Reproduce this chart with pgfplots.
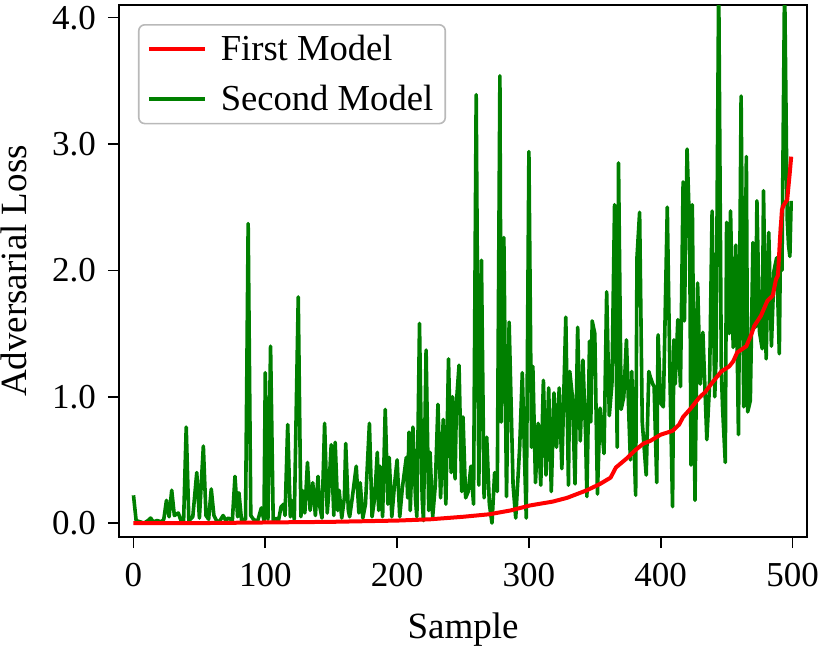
\documentclass[border=0pt]{standalone}
\usepackage{fontspec}
\setmainfont{Liberation Serif}
\usepackage{pgfplots}
\pgfplotsset{compat=1.18}
\definecolor{mgreen}{rgb}{0,0.5,0}
\definecolor{mred}{rgb}{1,0,0}
\begin{document}
\begin{tikzpicture}
\begin{axis}[
  width=344pt, height=266pt, scale only axis,
  xmin=-11, xmax=511, ymin=-0.11, ymax=4.10,
  xtick={0,100,200,300,400,500}, ytick={0,1,2,3,4},
  yticklabel style={/pgf/number format/.cd, fixed, fixed zerofill, precision=1},
  /pgf/number format/assume math mode=true,
  tick label style={font=\fontsize{17.5}{17.5}\selectfont},
  xticklabel shift=4pt, yticklabel shift=2.5pt,
  label style={font=\fontsize{18.5}{20}\selectfont},
  xlabel={Sample}, ylabel={Adversarial Loss},
  xlabel style={yshift=-6pt}, ylabel style={yshift=6pt},
  tick align=outside, major tick length=5.5pt,
  xtick pos=bottom, ytick pos=left,
  axis line style={line width=1.2pt},
  every tick/.style={black, line width=0.8pt},
  reverse legend,
  legend cell align=left,
  legend style={at={(rel axis cs:0,1)}, anchor=north west, xshift=9.5pt, yshift=-9.5pt,
    draw=gray!55, line width=0.8pt, rounded corners=3pt,
    font=\fontsize{18.3}{18.3}\selectfont, inner xsep=4pt, inner ysep=3pt, row sep=7pt},
  legend image code/.code={\draw[#1, line width=2pt] (2pt,0pt) -- (30pt,0pt); \path (35pt,0pt);},
]
\coordinate (BL) at (rel axis cs:0,0);
\coordinate (TR) at (rel axis cs:1,1);
\addplot[mgreen, line width=1.8pt, line join=round] coordinates {
(0,0.22)(2,0.02)(5,0.01)(8,0.00)(11,0.02)(13,0.04)(15,0.01)(18,0.02)(21,0.01)(23,0.03)
(25,0.18)(27,0.05)(29,0.26)(31,0.06)(34,0.08)(36,0.02)(38,0.01)(40,0.76)(42,0.02)(45,0.05)
(48,0.40)(50,0.04)(53,0.61)(55,0.06)(57,0.03)(59,0.27)(61,0.06)(63,0.02)(65,0.01)(68,0.06)
(70,0.02)(72,0.04)(75,0.02)(77,0.37)(79,0.05)(80,0.24)(82,0.02)(85,0.03)(87,2.37)(89,0.06)
(91,0.03)(94,0.01)(97,0.12)(99,0.02)(100,1.19)(102,0.03)(104,1.40)(106,0.02)(108,0.04)(110,0.02)
(112,0.13)(114,0.15)(115,0.06)(117,0.78)(119,0.05)(120,0.18)(122,0.03)(125,1.79)(127,0.05)(128,0.26)
(130,0.08)(132,0.48)(134,0.10)(136,0.32)(138,0.06)(140,0.37)(141,0.15)(143,0.04)(145,0.79)(147,0.08)
(148,0.22)(150,0.62)(152,0.06)(153,0.64)(155,0.10)(156,0.26)(158,0.04)(160,0.20)(161,0.63)(163,0.10)
(164,0.05)(166,0.20)(169,0.45)(171,0.08)(172,0.32)(174,0.04)(176,0.15)(179,0.79)(181,0.05)(183,0.20)
(185,0.56)(186,0.10)(187,0.45)(189,0.05)(191,0.90)(193,0.15)(194,0.52)(196,0.05)(198,0.30)(200,0.50)
(202,0.05)(204,0.28)(207,0.52)(208,0.20)(209,0.72)(210,0.10)(212,0.76)(214,0.18)(215,0.05)(217,1.58)
(219,0.20)(220,0.02)(222,1.37)(224,0.10)(225,0.56)(227,0.05)(229,0.30)(231,0.94)(233,0.20)(235,0.82)
(237,0.15)(239,1.30)(241,0.40)(242,1.00)(244,0.35)(245,0.95)(247,1.25)(249,0.25)(250,0.84)(252,0.20)
(254,0.25)(256,0.45)(258,0.15)(260,3.39)(262,0.30)(264,2.08)(266,0.20)(268,0.68)(270,0.15)(272,0.00)
(274,0.40)(276,0.25)(278,3.54)(279,0.80)(281,2.26)(283,0.21)(285,1.59)(288,0.30)(290,0.04)(293,0.60)
(295,1.19)(297,0.40)(298,0.04)(300,2.94)(302,0.60)(303,1.24)(305,0.32)(307,0.79)(309,0.30)(311,1.13)
(313,0.38)(315,1.07)(317,0.25)(319,1.03)(321,0.60)(323,1.07)(325,0.43)(328,1.63)(330,0.30)(331,1.20)
(333,1.00)(335,0.31)(337,1.55)(339,0.65)(341,1.29)(343,0.70)(344,0.21)(346,1.44)(347,0.80)(348,1.60)
(350,1.50)(352,0.23)(354,0.91)(357,0.55)(359,1.83)(361,0.85)(363,1.10)(365,2.52)(367,0.60)(368,2.85)
(370,0.90)(372,1.00)(374,1.45)(376,0.80)(377,0.50)(378,1.20)(381,0.22)(382,2.10)(384,2.46)(386,0.80)
(389,0.38)(391,1.20)(392,1.16)(394,1.10)(395,1.08)(397,0.32)(398,1.49)(400,0.95)(402,0.92)(405,2.50)
(407,1.16)(409,0.13)(410,1.45)(411,1.10)(413,1.61)(415,1.08)(417,2.70)(418,1.60)(420,2.96)(422,2.30)
(423,0.46)(424,2.52)(426,0.18)(428,1.90)(430,1.10)(432,1.51)(435,0.66)(437,1.08)(439,2.47)(441,1.00)
(442,1.30)(444,4.30)(446,1.20)(447,0.90)(449,0.48)(450,2.38)(452,1.50)(453,2.47)(455,1.39)(457,2.20)
(458,1.40)(459,0.70)(461,3.38)(463,0.92)(465,2.90)(466,0.88)(468,0.97)(470,2.22)(472,1.55)(473,2.55)
(475,1.51)(477,1.38)(478,2.63)(480,1.30)(482,2.30)(484,1.40)(486,2.00)(488,2.10)(490,1.34)(491,2.35)
(492,2.00)(494,4.30)(496,2.40)(497,2.20)(498,2.11)(499,2.55)
};
\addlegendentry{Second Model}
\addplot[mred, line width=2pt, line join=round] coordinates {
(0,0.0)(50,0.0)(100,0.005)(150,0.01)(200,0.02)(225,0.03)(250,0.05)(270,0.07)(286,0.10)(301,0.14)
(318,0.17)(329,0.20)(344,0.26)(354,0.31)(362,0.36)(364,0.40)(366,0.44)(374,0.51)(381,0.58)(387,0.63)
(392,0.65)(400,0.70)(409,0.73)(412,0.76)(414,0.78)(417,0.84)(423,0.91)(429,0.99)(434,1.04)(439,1.11)
(446,1.20)(452,1.24)(455,1.28)(458,1.35)(465,1.40)(469,1.50)(471,1.56)(476,1.64)(481,1.76)(485,1.80)
(487.5,1.93)(489,1.96)(490.5,2.25)(492,2.48)(493,2.51)(496,2.56)(498,2.78)(499,2.90)
};
\addlegendentry{First Model}
\end{axis}
\pgfresetboundingbox
\path[use as bounding box] ([shift={(-59.5pt,-55.5pt)}]BL) rectangle ([shift={(8pt,2.5pt)}]TR);
\end{tikzpicture}
\end{document}
